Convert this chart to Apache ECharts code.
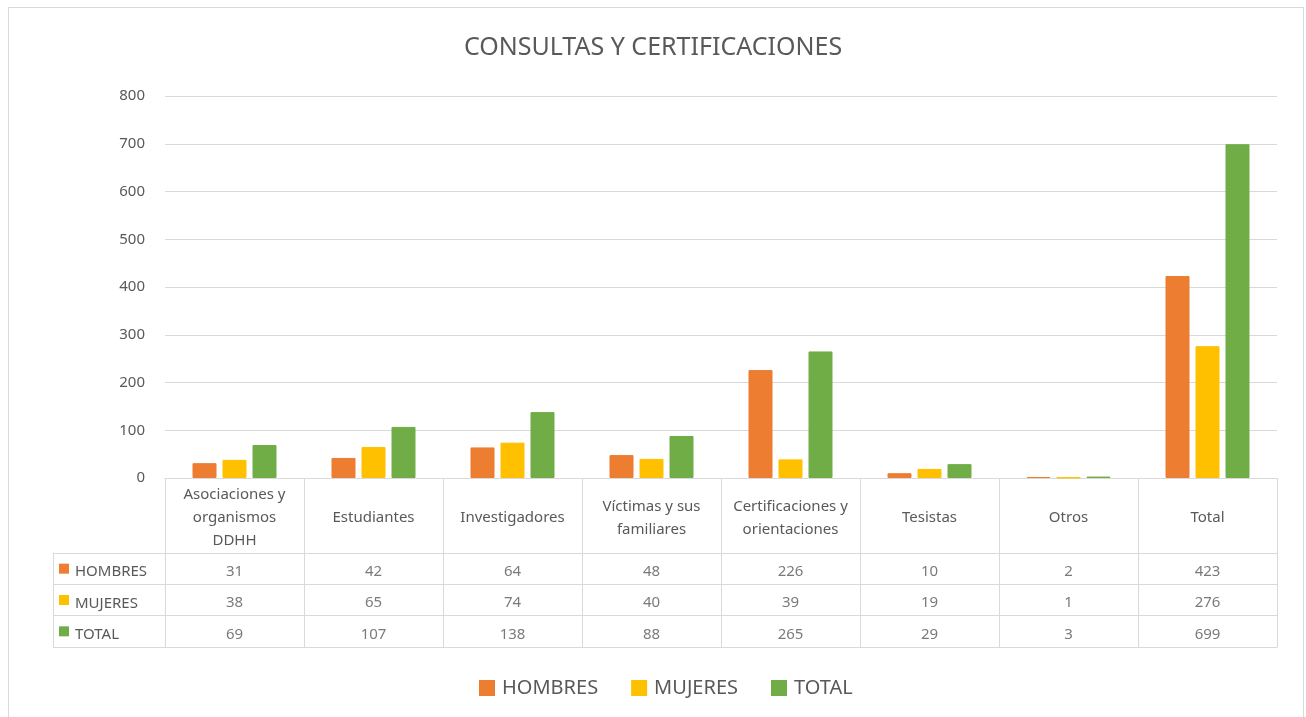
<!DOCTYPE html>
<html>
<head>
<meta charset="utf-8">
<script src="https://cdn.jsdelivr.net/npm/echarts@6/dist/echarts.min.js"></script>
<style>
  html, body { margin: 0; padding: 0; background: #fff; }
  .frame { position: absolute; left: 8px; top: 7px; width: 1296px; height: 720px; border: 1px solid #d9d9d9; box-sizing: border-box; }
  .demo { position: absolute; left: 0; top: 0; width: 1306px; height: 717px; }
</style>
</head>
<body>
<div class="frame"></div>
<div class="demo"></div>
<script>
const categories = ['Asociaciones y\norganismos\nDDHH', 'Estudiantes', 'Investigadores', 'Víctimas y sus\nfamiliares', 'Certificaciones y\norientaciones', 'Tesistas', 'Otros', 'Total']
const seriesNames = ['HOMBRES', 'MUJERES', 'TOTAL']
const hombres = [31, 42, 64, 48, 226, 10, 2, 423]
const mujeres = [38, 65, 74, 40, 39, 19, 1, 276]
const total = [69, 107, 138, 88, 265, 29, 3, 699]
const yTicks = [0, 800, 100]

;(function () {
  const chartinstance = echarts.init(document.querySelector('.demo'))
  const colors = ['#ED7D31', '#FFC000', '#70AD47']
  const values = [hombres, mujeres, total]
  const textColor = '#595959'
  const lineColor = '#d9d9d9'
  const font = 'Noto Sans'

  // bars
  const barSeries = seriesNames.map((name, k) => ({
    name: name,
    type: 'bar',
    xAxisIndex: 0,
    yAxisIndex: 0,
    data: values[k],
    barWidth: 24,
    barGap: '25%',
    itemStyle: { color: colors[k], borderColor: colors[k], borderWidth: 1 }
  }))

  // table cells (values under each category)
  const cellSeries = seriesNames.map((name, k) => ({
    name: name + '_cells',
    type: 'scatter',
    xAxisIndex: 1,
    yAxisIndex: 1,
    symbolSize: 1,
    silent: true,
    itemStyle: { color: 'rgba(0,0,0,0)' },
    label: {
      show: true,
      position: 'inside',
      offset: [0, 3],
      formatter: p => p.value[2],
      color: textColor,
      fontFamily: font,
      fontSize: 15
    },
    data: values[k].map((v, i) => [i, name, v])
  }))

  const rich = { t: { padding: [7, 0, 0, 6], color: textColor, fontFamily: font, fontSize: 15 } }
  colors.forEach((c, k) => { rich['s' + k] = { width: 10, height: 10, backgroundColor: c } })

  const option = {
    title: {
      text: 'CONSULTAS Y CERTIFICACIONES',
      left: 'center',
      top: 30,
      textStyle: { color: textColor, fontFamily: font, fontSize: 25, fontWeight: 'normal' }
    },
    legend: {
      data: seriesNames,
      top: 673,
      left: 474,
      itemWidth: 14,
      itemHeight: 14,
      itemGap: 33,
      icon: 'rect',
      textStyle: { color: textColor, fontFamily: font, fontSize: 20, padding: [0, 0, 0, 3] }
    },
    grid: [
      { left: 165, right: 29, top: 96, height: 382 },
      { left: 165, right: 29, top: 553, height: 94 }
    ],
    xAxis: [
      {
        type: 'category',
        gridIndex: 0,
        data: categories,
        axisLine: { show: true, lineStyle: { color: lineColor, width: 1 } },
        axisTick: { show: true, interval: 0, length: 75, lineStyle: { color: lineColor } },
        axisLabel: {
          interval: 0,
          margin: 40,
          verticalAlign: 'middle',
          lineHeight: 23,
          color: textColor,
          fontFamily: font,
          fontSize: 15
        }
      },
      {
        type: 'category',
        gridIndex: 1,
        data: categories,
        axisLine: { show: true, lineStyle: { color: lineColor } },
        axisTick: { show: false },
        axisLabel: { show: false },
        splitLine: { show: true, interval: 0, lineStyle: { color: lineColor } }
      }
    ],
    yAxis: [
      {
        type: 'value',
        gridIndex: 0,
        min: yTicks[0],
        max: yTicks[1],
        interval: yTicks[2],
        axisLine: { show: false },
        axisTick: { show: false },
        axisLabel: { margin: 20, color: textColor, fontFamily: font, fontSize: 15 },
        splitLine: { lineStyle: { color: lineColor } }
      },
      {
        type: 'category',
        gridIndex: 1,
        inverse: true,
        data: seriesNames,
        axisLine: { show: true, lineStyle: { color: lineColor } },
        axisTick: { show: true, interval: 0, length: 112, lineStyle: { color: lineColor } },
        axisLabel: {
          align: 'left',
          margin: 106,
          formatter: (v, i) => '{s' + i + '|}{t|' + v + '}',
          rich: rich
        },
        splitLine: { show: true, interval: 0, lineStyle: { color: lineColor } }
      },
      {
        type: 'category',
        gridIndex: 1,
        position: 'left',
        offset: 112,
        data: seriesNames,
        axisLine: { show: true, lineStyle: { color: lineColor } },
        axisTick: { show: false },
        axisLabel: { show: false }
      }
    ],
    series: barSeries.concat(cellSeries)
  }
  option && chartinstance.setOption(option)
  window.addEventListener('resize', () => {
    chartinstance.resize()
  })
})()
</script>
</body>
</html>
